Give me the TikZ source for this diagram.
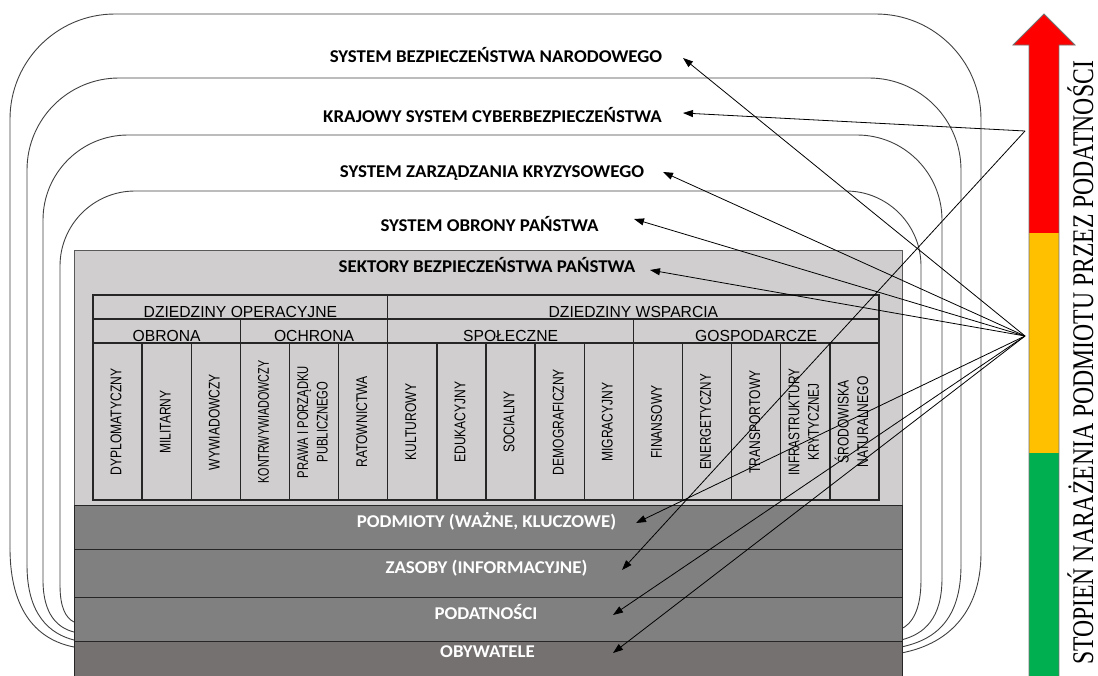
\documentclass[tikz,border=0pt]{standalone}
\usepackage{fontspec}
\setmainfont{Carlito}
\newfontfamily\tabfont{Liberation Sans}
\newfontfamily\serfont{Liberation Serif}
\usetikzlibrary{arrows.meta}

\definecolor{sektorfill}{HTML}{D0CECE}
\definecolor{bandfill}{HTML}{808080}
\definecolor{citizenfill}{HTML}{767171}
\definecolor{barred}{HTML}{FF0000}
\definecolor{baramber}{HTML}{FFC000}
\definecolor{bargreen}{HTML}{00B050}

% slightly widened bold capitals for the layer titles
\newcommand{\hwide}[1]{\scalebox{1.05}[1]{#1}}

\begin{document}
\begin{tikzpicture}[x=1pt,y=-1pt,
  nest/.style={draw=black!75, line width=0.9pt},
  heading/.style={font=\fontsize{18}{21}\selectfont\bfseries, anchor=base, inner sep=0pt},
  bandlabel/.style={heading, text=white},
  bandbox/.style={draw=black!85, line width=0.9pt, minimum width=828pt, anchor=north west, inner sep=0pt},
  link/.style={draw=black, line width=0.8pt, -{Triangle[length=10pt,width=7pt]}},
  tabline/.style={draw=black!85, line width=1.3pt},
  hdr/.style={anchor=base, inner sep=0pt, font=\tabfont\fontsize{16}{19}\selectfont},
  coltext/.style={rotate=90, inner sep=0pt, font=\tabfont\fontsize{15.5}{19.5}\selectfont},
]
\useasboundingbox (0,0) rectangle (1098,675);

% nested security systems: rounded tops, curved feet joining the base
\draw[nest, rounded corners=105pt] (10,548) -- (10,14) -- (981,14) -- (981,553);
\draw[nest] (10,548) .. controls (10,612) and (38,640) .. (74,647);
\draw[nest] (981,553) .. controls (981,615) and (945,645) .. (901,653);

\draw[nest, rounded corners=92pt] (27,565) -- (27,78) -- (961,78) -- (961,565);
\draw[nest] (27,565) .. controls (27,615) and (50,634) .. (74,640);
\draw[nest] (961,565) .. controls (961,620) and (935,640) .. (901,647);

\draw[nest, rounded corners=85pt] (43,580) -- (43,135) -- (942,135) -- (942,578);
\draw[nest] (43,580) .. controls (43,615) and (58,628) .. (74,632);
\draw[nest] (942,578) .. controls (942,618) and (925,634) .. (901,640);

\draw[nest, rounded corners=75pt] (60,585) -- (60,191) -- (921,191) -- (921,580);
\draw[nest] (60,585) .. controls (60,608) and (66,618) .. (74,622);
\draw[nest] (921,580) .. controls (921,610) and (912,624) .. (901,629);

% sectors panel and base layers
\node[bandbox, draw=black!65, fill=sektorfill, minimum height=255pt] (sektory) at (74,250) {};
\node[bandbox, fill=bandfill, minimum height=44pt] (podm) at (74,505) {};
\node[bandbox, fill=bandfill, minimum height=48pt] (zas) at (74,549) {};
\node[bandbox, fill=bandfill, minimum height=44pt] (podat) at (74,597) {};
\node[bandbox, fill=citizenfill, minimum height=38pt] (obyw) at (74,641) {};

% headings
\node[heading] (lNar) at (496,62) {\hwide{SYSTEM BEZPIECZEŃSTWA NARODOWEGO}};
\node[heading] (lKraj) at (492.5,122) {\hwide{KRAJOWY SYSTEM CYBERBEZPIECZEŃSTWA}};
\node[heading] (lZarz) at (492,177) {\hwide{SYSTEM ZARZĄDZANIA KRYZYSOWEGO}};
\node[heading] (lObr) at (489.5,231) {\hwide{SYSTEM OBRONY PAŃSTWA}};
\node[heading] (lSek) at (487,272) {\hwide{SEKTORY BEZPIECZEŃSTWA PAŃSTWA}};
\node[bandlabel] (lPodm) at (486.5,527) {\hwide{PODMIOTY (WAŻNE, KLUCZOWE)}};
\node[bandlabel] (lZas) at (486.5,573) {\hwide{ZASOBY (INFORMACYJNE)}};
\node[bandlabel] (lPodat) at (486,619) {\hwide{PODATNOŚCI}};
\node[bandlabel] (lObyw) at (487.5,657.5) {\hwide{OBYWATELE}};

% sectors table
\draw[tabline] (93,295) rectangle (879,500);
\draw[tabline] (93,319) -- (879,319);
\draw[tabline] (93,343) -- (879,343);
\draw[tabline] (387.75,295) -- (387.75,500);
\draw[tabline] (240.375,319) -- (240.375,343);
\draw[tabline] (633.375,319) -- (633.375,343);
\foreach \k in {1,...,15} \draw[tabline] ({93+49.125*\k},343) -- ({93+49.125*\k},500);

\node[hdr] (hOp) at (240.4,317) {\scalebox{0.98}[1]{DZIEDZINY OPERACYJNE}};
\node[hdr] (hWs) at (633.4,317) {\scalebox{0.98}[1]{DZIEDZINY WSPARCIA}};
\node[hdr] (hObr) at (166.7,341) {\scalebox{0.98}[1]{OBRONA}};
\node[hdr] (hOch) at (314.1,341) {\scalebox{0.98}[1]{OCHRONA}};
\node[hdr] (hSpo) at (510.6,341) {\scalebox{0.98}[1]{SPOŁECZNE}};
\node[hdr] (hGos) at (756.2,341) {\scalebox{0.98}[1]{GOSPODARCZE}};

% one rotated label per sector column, each with its own squeeze
\foreach \lbl/\sq [count=\i] in {DYPLOMATYCZNY/0.78, MILITARNY/0.78, WYWIADOWCZY/0.78,
    KONTRWYWIADOWCZY/0.695, {PRAWA I PORZĄDKU\\PUBLICZNEGO}/0.725, RATOWNICTWA/0.78,
    KULTUROWY/0.78, EDUKACYJNY/0.78, SOCIALNY/0.78, DEMOGRAFICZNY/0.78,
    MIGRACYJNY/0.78, FINANSOWY/0.78, ENERGETYCZNY/0.75, TRANSPORTOWY/0.78,
    {INFRASTRUKTURY\\KRYTYCZNEJ}/0.76, {ŚRODOWISKA\\NATURALNEGO}/0.78}
  \node[coltext] (col\i) at ({93+49.125*(\i-0.5)},422)
    {\scalebox{\sq}[1]{\begin{tabular}{@{}c@{}}\lbl\end{tabular}}};

% exposure scale arrow
\fill[barred] (1029,45) rectangle (1059,233);
\fill[baramber] (1029,233) rectangle (1059,453);
\fill[bargreen] (1029,453) rectangle (1059,677);
\fill[barred] (1013,45) -- (1044,14) -- (1075,45) -- cycle;
\draw[black!55, line width=0.8pt] (1029,677) -- (1029,45) -- (1013,45) -- (1044,14)
  -- (1075,45) -- (1059,45) -- (1059,677);
\node[rotate=90, anchor=base, inner sep=0pt, font=\serfont\fontsize{30}{32}\selectfont]
  (scalelbl) at (1093,363) {\scalebox{0.79}[1]{STOPIEŃ NARAŻENIA PODMIOTU PRZEZ PODATNOŚCI}};

% connectors from the two points on the scale
\coordinate (o1) at (1025,131);
\coordinate (o2) at (1025,336);
\coordinate (tNar) at (683,58);
\coordinate (tKraj) at (683,113);
\coordinate (tZarz) at (663,172);
\coordinate (tObr) at (634,219);
\coordinate (tSek) at (650,270);
\coordinate (tPodm) at (636,523);
\coordinate (tZas) at (622,570);
\coordinate (tPodat) at (613,615);
\coordinate (tObyw) at (613,653);

\draw[link] (o1) -- (tKraj);
\draw[link] (o1) -- (tZas);
\draw[link] (o2) -- (tNar);
\draw[link] (o2) -- (tZarz);
\draw[link] (o2) -- (tObr);
\draw[link] (o2) -- (tSek);
\draw[link] (o2) -- (tPodm);
\draw[link] (o2) -- (tPodat);
\draw[link] (o2) -- (tObyw);
\end{tikzpicture}
\end{document}
